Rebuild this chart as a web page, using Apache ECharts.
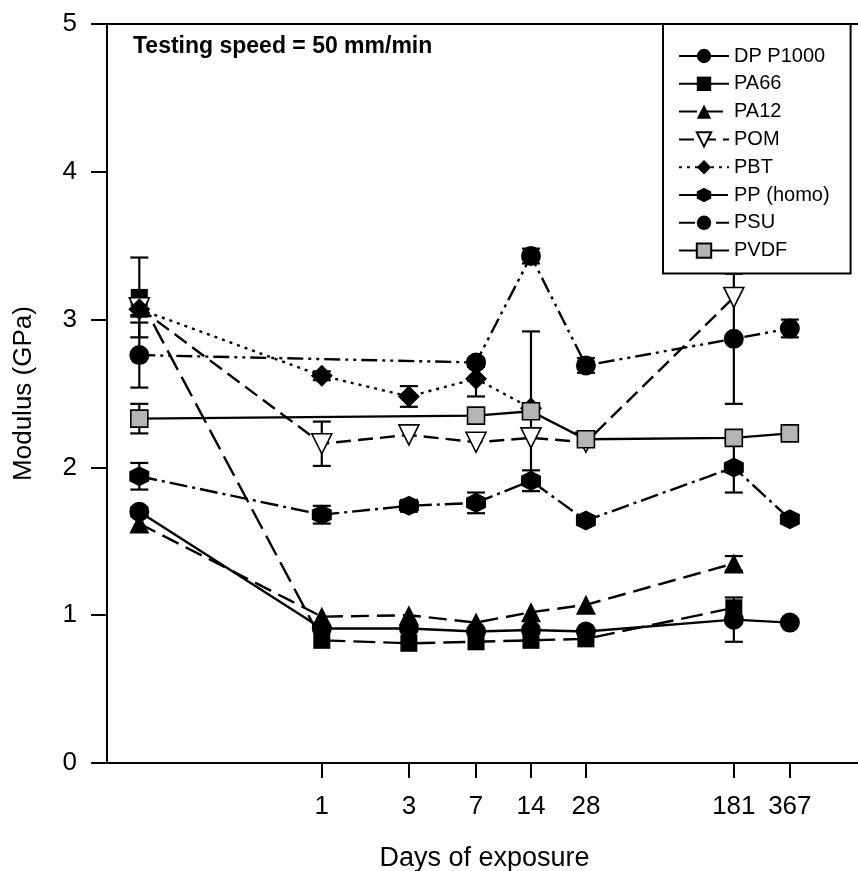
<!DOCTYPE html>
<html>
<head>
<meta charset="utf-8">
<script src="https://cdn.jsdelivr.net/npm/echarts@6/dist/echarts.min.js"></script>
<style>
html,body{margin:0;padding:0;background:#fff;}
#chart{width:858px;height:871px;}
</style>
</head>
<body>
<div id="chart"></div>
<script>
// ---- data ----
const days = [0, 1, 3, 7, 14, 28, 181, 367];
const DAY0_PLOT = 0.1;              // day 0 is drawn at this position of the log scale
const tickDays = [1, 3, 7, 14, 28, 181, 367];
const seriesNames = ['DP P1000', 'PA66', 'PA12', 'POM', 'PBT', 'PP (homo)', 'PSU', 'PVDF'];

const dpP1000    = [1.70, 0.91, 0.91, 0.89, 0.90, 0.89, 0.97, 0.95];
const dpP1000Err = [0.03, null, null, null, null, null, 0.15, null];
const pa66       = [3.15, 0.83, 0.81, 0.82, 0.83, 0.84, 1.05, null];
const pa66Err    = [0.27, null, null, null, null, null, null, null];
const pa12       = [1.62, 0.99, 1.00, 0.95, 1.02, 1.07, 1.35, null];
const pa12Err    = [null, null, null, null, null, null, 0.05, null];
const pom        = [3.08, 2.16, 2.22, 2.17, 2.20, 2.17, 3.15, null];
const pomErr     = [0.05, 0.15, null, null, null, null, null, null];
const pbt        = [3.07, 2.62, 2.48, 2.60, 2.40, null, null, null];
const pbtErr     = [0.05, 0.03, 0.07, 0.12, null, null, null, null];
const ppHomo     = [1.94, 1.68, 1.74, 1.76, 1.91, 1.64, 2.00, 1.65];
const ppHomoErr  = [0.09, 0.06, 0.04, 0.07, 0.07, 0.03, 0.17, 0.03];
const psu        = [2.76, null, null, 2.71, 3.43, 2.69, 2.87, 2.94];
const psuErr     = [0.22, null, null, 0.03, 0.05, 0.05, 0.44, 0.06];
const pvdf       = [2.33, null, null, 2.35, 2.38, 2.19, 2.20, 2.23];
const pvdfErr    = [0.10, null, null, 0.03, 0.54, 0.02, 0.02, 0.02];

// ---- build ----
const xPos = d => Math.log10(d === 0 ? DAY0_PLOT : d);
const X_MIN = -1.177, X_MAX = 2.960;

function pts(vals) { return vals.map((v, i) => [xPos(days[i]), v]); }
function errPts(vals, errs) {
  const out = [];
  vals.forEach((v, i) => { if (v != null && errs[i] != null) out.push([xPos(days[i]), v, errs[i]]); });
  return out;
}

const HEX = 'path://M5,0 L9.33,2.5 L9.33,7.5 L5,10 L0.67,7.5 L0.67,2.5 Z';
const TRI_DOWN = 'path://M0,0 L10,0 L5,9 Z';

const styles = {
  'DP P1000':  {vals: dpP1000, errs: dpP1000Err, symbol: 'circle', size: 20, dash: 'solid', fill: '#000'},
  'PA66':      {vals: pa66, errs: pa66Err, symbol: 'rect', size: 17, dash: [22, 8], fill: '#000'},
  'PA12':      {vals: pa12, errs: pa12Err, symbol: 'triangle', size: 20, dash: [18, 8], fill: '#000'},
  'POM':       {vals: pom, errs: pomErr, symbol: TRI_DOWN, size: 20, dash: [15, 7], fill: '#fff'},
  'PBT':       {vals: pbt, errs: pbtErr, symbol: 'diamond', size: 22, dash: [3, 5], fill: '#000'},
  'PP (homo)': {vals: ppHomo, errs: ppHomoErr, symbol: HEX, size: 20, dash: [18, 5, 3, 5], fill: '#000'},
  'PSU':       {vals: psu, errs: psuErr, symbol: 'circle', size: 20, dash: [16, 5, 3, 5, 3, 5], fill: '#000'},
  'PVDF':      {vals: pvdf, errs: pvdfErr, symbol: 'rect', size: 17, dash: 'solid', fill: '#b5b5b5'}
};

function renderErr(params, api) {
  const x = api.value(0), y = api.value(1), e = api.value(2);
  const t = api.coord([x, y + e]);
  const b = api.coord([x, y - e]);
  const w = 9;
  const st = {stroke: '#000', lineWidth: 2.2};
  return {type: 'group', children: [
    {type: 'line', shape: {x1: t[0], y1: t[1], x2: b[0], y2: b[1]}, style: st},
    {type: 'line', shape: {x1: t[0] - w, y1: t[1], x2: t[0] + w, y2: t[1]}, style: st},
    {type: 'line', shape: {x1: b[0] - w, y1: b[1], x2: b[0] + w, y2: b[1]}, style: st}
  ]};
}

const series = [];
seriesNames.forEach(name => {
  const s = styles[name];
  series.push({
    type: 'custom', name: name + ' err', renderItem: renderErr,
    data: errPts(s.vals, s.errs), z: 3, silent: true, clip: false,
    encode: {x: 0, y: 1}
  });
});
seriesNames.forEach((name, k) => {
  const s = styles[name];
  series.push({
    type: 'line', name: name, data: pts(s.vals), connectNulls: true,
    symbol: s.symbol, symbolSize: s.size, showSymbol: true,
    lineStyle: {color: '#000', width: 2.4, type: s.dash},
    itemStyle: {color: s.fill, borderColor: '#000', borderWidth: (s.fill === '#000') ? 0 : 1.6, opacity: 1},
    z: 5 + k, animation: false
  });
});

const chart = echarts.init(document.getElementById('chart'), null, {renderer: 'canvas'});
const FONT = 'Liberation Sans, Arial, Helvetica, sans-serif';
chart.setOption({
  animation: false,
  backgroundColor: '#fff',
  textStyle: {fontFamily: FONT, color: '#000'},
  grid: {left: 107, top: 24, right: -4, bottom: 108, containLabel: false, outerBoundsMode: 'none'},
  xAxis: [{
    type: 'value', position: 'bottom', min: X_MIN, max: X_MAX,
    axisLine: {onZero: false, lineStyle: {color: '#000', width: 2}},
    axisTick: {show: true, length: 15, customValues: tickDays.map(d => Math.log10(d)), lineStyle: {color: '#000', width: 2}},
    axisLabel: {customValues: tickDays.map(d => Math.log10(d)), formatter: v => String(Math.round(Math.pow(10, v))),
      fontSize: 26, color: '#000', margin: 31, fontFamily: FONT},
    splitLine: {show: false},
    name: 'Days of exposure', nameLocation: 'middle', nameGap: 82,
    nameTextStyle: {fontSize: 27, color: '#000', fontFamily: FONT}
  }, {
    type: 'value', position: 'top', min: X_MIN, max: X_MAX,
    axisLine: {onZero: false, lineStyle: {color: '#000', width: 2}},
    axisTick: {show: false}, axisLabel: {show: false}, splitLine: {show: false}
  }],
  yAxis: {
    type: 'value', min: 0, max: 5, interval: 1, position: 'left',
    axisLine: {show: true, onZero: false, lineStyle: {color: '#000', width: 2}},
    axisTick: {show: true, length: 16, lineStyle: {color: '#000', width: 2}},
    axisLabel: {fontSize: 26, color: '#000', margin: 30, fontFamily: FONT},
    splitLine: {show: false},
    name: 'Modulus (GPa)', nameLocation: 'middle', nameGap: 70,
    nameTextStyle: {fontSize: 26, color: '#000', fontFamily: FONT}
  },
  legend: {
    data: seriesNames, orient: 'vertical', left: 663, top: 24,
    backgroundColor: '#fff', borderColor: '#000', borderWidth: 2,
    padding: [22, 21, 13, 15], itemWidth: 50, itemHeight: 18, itemGap: 7.8, itemTextGap: 16,
    textStyle: {fontSize: 20, color: '#000', fontFamily: FONT},
    selectedMode: false, z: 20
  },
  graphic: [{
    type: 'text', left: 133, top: 35, z: 30,
    style: {text: 'Testing speed = 50 mm/min', font: 'bold 23px ' + FONT, fill: '#000'}
  }],
  series: series
});
</script>
</body>
</html>
